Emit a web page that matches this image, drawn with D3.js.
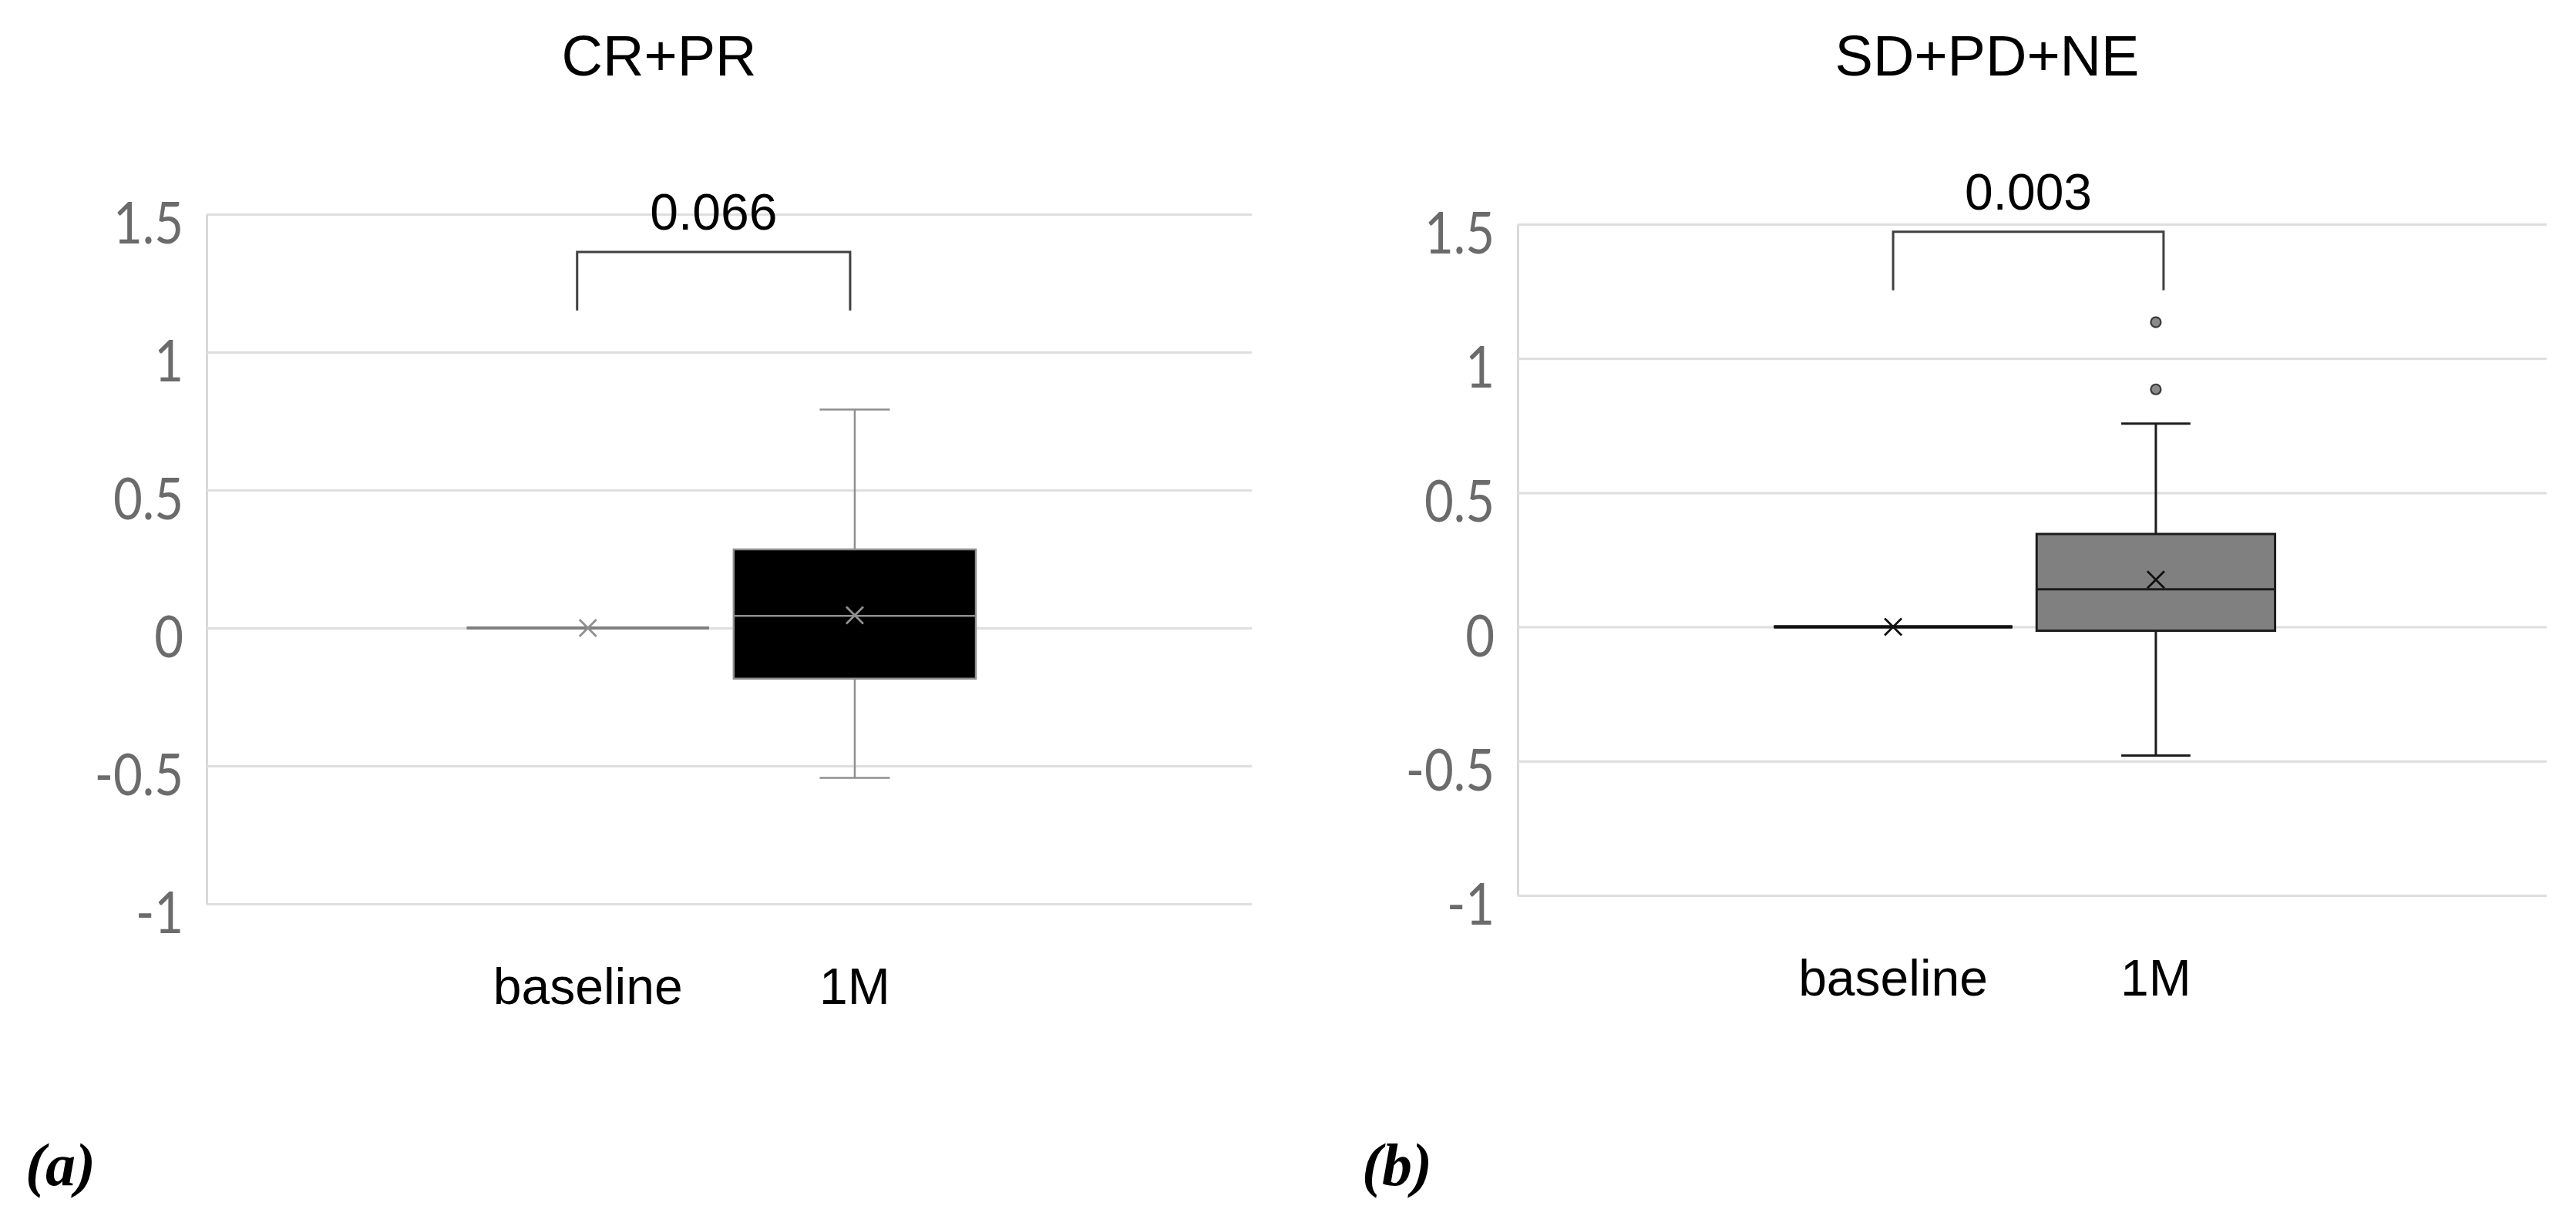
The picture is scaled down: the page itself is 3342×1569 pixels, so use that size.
<!DOCTYPE html>
<html>
<head>
<meta charset="utf-8">
<script src="https://cdn.jsdelivr.net/npm/d3@7"></script>
<style>
  html, body { margin: 0; padding: 0; background: #ffffff; }
  svg { display: block; }
</style>
</head>
<body>
<script>
// ---------------- data ----------------
const categories = ["baseline", "1M"];
const panelTitles = ["CR+PR", "SD+PD+NE"];
const panelTags = ["(a)", "(b)"];
const pValues = ["0.066", "0.003"];
const yTickValues = [-1, -0.5, 0, 0.5, 1, 1.5];
const yTickLabels = ["-1", "-0.5", "0", "0.5", "1", "1.5"];

// five-number summaries [min, q1, median, q3, max]
const crprBaseline = [0, 0, 0, 0, 0];
const crpr1M = [-0.543, -0.184, 0.044, 0.285, 0.792];
const crprMeans = [0, 0.046];
const crprOutliers = [[], []];

const sdBaseline = [0, 0, 0, 0, 0];
const sd1M = [-0.479, -0.014, 0.140, 0.346, 0.757];
const sdMeans = [0, 0.176];
const sdOutliers = [[], [0.885, 1.135]];

// significance bracket [leg bottom, bar top] in y units
const crprBracket = [1.151, 1.363];
const sdBracket = [1.254, 1.472];

// ---------------- layout / style ----------------
const W = 3342, H = 1569;
const panels = [
  { title: panelTitles[0], tag: panelTags[0], p: pValues[0],
    stats: [crprBaseline, crpr1M], means: crprMeans, outliers: crprOutliers, bracket: crprBracket,
    x0: 268, x1: 1624, yTop: 278, yBot: 1173, titleX: 855, tagX: 33, brOff: [-14, -6],
    fill: "#000000", stroke: "#8f8f8f", baseStroke: "#7f7f7f", meanColor: "#8f8f8f", lw: 2.5 },
  { title: panelTitles[1], tag: panelTags[1], p: pValues[1],
    stats: [sdBaseline, sd1M], means: sdMeans, outliers: sdOutliers, bracket: sdBracket,
    x0: 1969, x1: 3304, yTop: 291, yBot: 1162, titleX: 2578, tagX: 1767, brOff: [0, 10],
    fill: "#808080", stroke: "#1c1c1c", baseStroke: "#111111", meanColor: "#111111", lw: 3 }
];

const svg = d3.select("body").append("svg").attr("width", W).attr("height", H);
svg.append("rect").attr("width", W).attr("height", H).attr("fill", "#fff");

panels.forEach(pn => {
  const w = pn.x1 - pn.x0;
  const y = d3.scaleLinear().domain([-1, 1.5]).range([pn.yBot, pn.yTop]);
  const x = d3.scaleBand().domain(categories)
    .range([pn.x0 + 0.249 * w, pn.x0 + 0.736 * w])
    .paddingInner(0.0925).paddingOuter(0);
  const bw = x.bandwidth();

  // grid + y axis
  const ax = svg.append("g").attr("transform", `translate(${pn.x0},0)`)
    .call(d3.axisLeft(y).tickValues(yTickValues).tickSize(-w).tickSizeOuter(0)
      .tickPadding(30).tickFormat((d, i) => yTickLabels[i]));
  ax.select(".domain").attr("stroke", "#d9d9d9").attr("stroke-width", 3);
  ax.selectAll(".tick line").attr("stroke", "#dedede").attr("stroke-width", 3);
  const sx = 0.87;
  ax.selectAll(".tick text")
    .attr("fill", "#6b6b6b")
    .attr("font-family", "Lato, 'Liberation Sans', Arial, sans-serif")
    .attr("font-weight", 400)
    .attr("font-size", 75)
    .attr("x", -30 / sx)
    .attr("dy", "0.5em")
    .attr("transform", `scale(${sx},1)`);

  // title
  svg.append("text").attr("x", pn.titleX).attr("y", 98)
    .attr("text-anchor", "middle")
    .attr("font-family", "'Liberation Sans', Arial, sans-serif")
    .attr("font-size", 74).attr("fill", "#000").text(pn.title);

  // boxes
  categories.forEach((c, i) => {
    const s = pn.stats[i];
    const cx = x(c) + bw / 2;
    const left = x(c), right = x(c) + bw;
    const capW = bw * 0.29;
    const g = svg.append("g");
    const col = i === 0 ? pn.baseStroke : pn.stroke;
    // whiskers
    if (s[4] > s[3]) {
      g.append("line").attr("x1", cx).attr("x2", cx).attr("y1", y(s[3])).attr("y2", y(s[4]))
        .attr("stroke", col).attr("stroke-width", pn.lw);
      g.append("line").attr("x1", cx - capW / 2).attr("x2", cx + capW / 2).attr("y1", y(s[4])).attr("y2", y(s[4]))
        .attr("stroke", col).attr("stroke-width", pn.lw);
    }
    if (s[0] < s[1]) {
      g.append("line").attr("x1", cx).attr("x2", cx).attr("y1", y(s[1])).attr("y2", y(s[0]))
        .attr("stroke", col).attr("stroke-width", pn.lw);
      g.append("line").attr("x1", cx - capW / 2).attr("x2", cx + capW / 2).attr("y1", y(s[0])).attr("y2", y(s[0]))
        .attr("stroke", col).attr("stroke-width", pn.lw);
    }
    // box
    g.append("path")
      .attr("d", `M${left},${y(s[3])}H${right}V${y(s[1])}H${left}Z`)
      .attr("fill", pn.fill).attr("stroke", col)
      .attr("stroke-width", i === 0 ? 4 : pn.lw);
    // median
    g.append("line").attr("x1", left).attr("x2", right).attr("y1", y(s[2])).attr("y2", y(s[2]))
      .attr("stroke", col).attr("stroke-width", i === 0 ? 4 : pn.lw);
    // mean marker
    const m = y(pn.means[i]), r = 11;
    g.append("path")
      .attr("d", `M${cx - r},${m - r}L${cx + r},${m + r}M${cx - r},${m + r}L${cx + r},${m - r}`)
      .attr("stroke", pn.meanColor).attr("stroke-width", 2.8).attr("fill", "none");
    // outliers
    pn.outliers[i].forEach(v => {
      g.append("circle").attr("cx", cx).attr("cy", y(v)).attr("r", 6.5)
        .attr("fill", "#8a8a8a").attr("stroke", "#3a3a3a").attr("stroke-width", 2.2);
    });
    // category label
    svg.append("text").attr("x", cx).attr("y", pn.yBot + 130)
      .attr("text-anchor", "middle")
      .attr("font-family", "'Liberation Sans', Arial, sans-serif")
      .attr("font-size", 66).attr("fill", "#000").text(c);
  });

  // significance bracket
  const c0 = x(categories[0]) + bw / 2 + pn.brOff[0];
  const c1 = x(categories[1]) + bw / 2 + pn.brOff[1];
  const yb = y(pn.bracket[0]), yt = y(pn.bracket[1]);
  svg.append("path")
    .attr("d", `M${c0},${yb}V${yt}H${c1}V${yb}`)
    .attr("fill", "none").attr("stroke", "#404040").attr("stroke-width", 3);
  svg.append("text").attr("x", (c0 + c1) / 2).attr("y", yt - 29)
    .attr("text-anchor", "middle")
    .attr("font-family", "'Liberation Sans', Arial, sans-serif")
    .attr("font-size", 66).attr("fill", "#000").text(pn.p);

  // panel tag
  svg.append("text").attr("x", pn.tagX).attr("y", 1538)
    .attr("font-family", "'Liberation Serif', 'Times New Roman', serif")
    .attr("font-style", "italic").attr("font-weight", "bold")
    .attr("font-size", 78).attr("fill", "#000").text(pn.tag);
});
</script>
</body>
</html>
